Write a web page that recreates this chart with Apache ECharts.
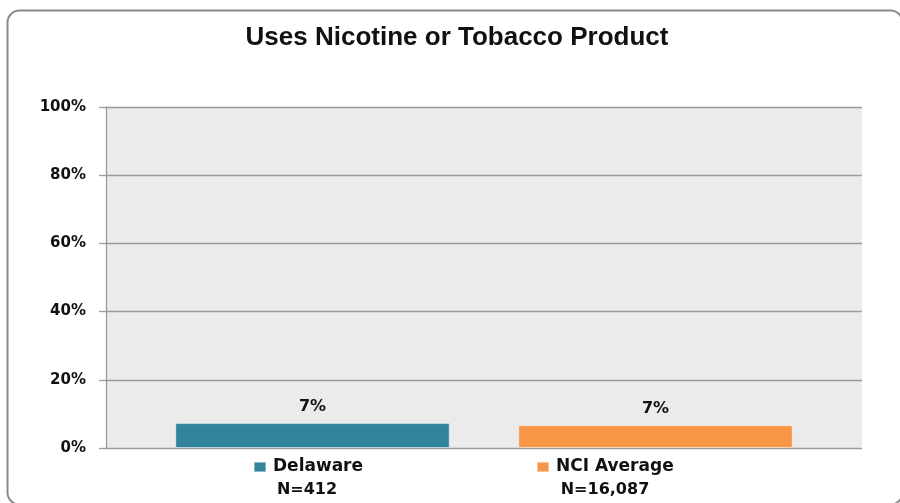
<!DOCTYPE html>
<html>
<head>
<meta charset="utf-8">
<script src="https://cdn.jsdelivr.net/npm/echarts@6/dist/echarts.min.js"></script>
<style>html,body{margin:0;padding:0;background:#fff;}#c{width:900px;height:503px;}</style>
</head>
<body>
<div id="c"></div>
<script>
var title = 'Uses Nicotine or Tobacco Product';
var categories = ['Delaware', 'NCI Average'];
var sampleSizes = ['N=412', 'N=16,087'];
var values = [7.3, 6.7];
var colors = ['#31849b', '#f79646'];
var yTicks = [0, 20, 40, 60, 80, 100];

var chart = echarts.init(document.getElementById('c'), null, {renderer: 'canvas'});
var labelFont = {fontFamily: 'DejaVu Sans', fontWeight: 'bold', fontSize: 15, color: '#111'};

var series = categories.map(function (name, i) {
  return {
    name: name,
    type: 'bar',
    xAxisIndex: 1,
    yAxisIndex: 1,
    stack: 'all',
    barWidth: '80%',
    data: categories.map(function (c, j) { return j === i ? values[i] : '-'; }),
    itemStyle: {color: colors[i], borderColor: 'rgba(255,255,255,0.45)', borderWidth: 1},
    label: {
      show: true, position: 'top', distance: 8,
      formatter: function (p) { return Math.round(p.value) + '%'; },
      fontFamily: 'DejaVu Sans', fontWeight: 'bold', fontSize: 16, color: '#111'
    }
  };
});

var legendLefts = [253, 536];
var legends = categories.map(function (name, i) {
  return {
    data: [name], left: legendLefts[i], top: 458, padding: 0,
    itemWidth: 12, itemHeight: 10, icon: 'rect',
    selectedMode: false,
    textStyle: {fontFamily: 'DejaVu Sans', fontWeight: 'bold', fontSize: 17, color: '#111', padding: [0, 0, 0, 2], lineHeight: 18}
  };
});

var nCenters = [307, 605];
var graphics = [{
  type: 'rect', left: 5, top: 8, silent: true,
  shape: {width: 895, height: 494, r: 12},
  style: {fill: 'none', stroke: '#8a8a8a', lineWidth: 2}
}];
sampleSizes.forEach(function (t, i) {
  graphics.push({
    type: 'text', x: nCenters[i], y: 490, silent: true,
    style: {text: t, fontFamily: 'DejaVu Sans', fontWeight: 'bold', fontSize: 16, fill: '#111', align: 'center', verticalAlign: 'middle'}
  });
});

chart.setOption({
  animation: false,
  backgroundColor: '#fff',
  title: {
    text: title, left: 457, top: 25, padding: 0, textAlign: 'center',
    textStyle: {fontFamily: 'Liberation Sans', fontWeight: 'bold', fontSize: 26, color: '#111'}
  },
  legend: legends,
  graphic: graphics,
  grid: [
    {left: 106, right: 38, top: 107, bottom: 55, show: true, backgroundColor: '#ebebeb', borderWidth: 0},
    {left: 141, right: 73, top: 107, bottom: 55}
  ],
  xAxis: [
    {gridIndex: 0, type: 'category', data: categories, show: false},
    {gridIndex: 1, type: 'category', data: categories, axisLine: {show: false}, axisTick: {show: false}, axisLabel: {show: false}}
  ],
  yAxis: [
    {
      gridIndex: 0, type: 'value', min: yTicks[0], max: yTicks[yTicks.length - 1], interval: 20,
      axisLine: {show: true, lineStyle: {color: '#9a9a9a', width: 1.3}},
      axisTick: {show: true, length: 7, lineStyle: {color: '#9a9a9a', width: 1.3}},
      splitLine: {show: true, lineStyle: {color: '#9a9a9a', width: 1.3}},
      axisLabel: Object.assign({margin: 20, formatter: '{value}%'}, labelFont)
    },
    {gridIndex: 1, type: 'value', min: 0, max: 100, show: false, splitLine: {show: false}}
  ],
  series: series
});
</script>
</body>
</html>
